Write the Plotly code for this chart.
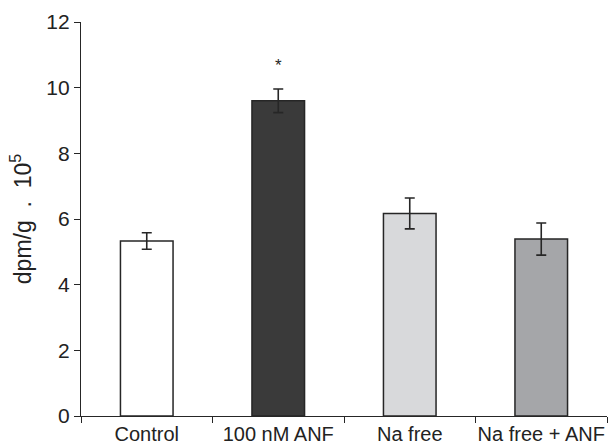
import plotly.graph_objects as go

categories = ["Control", "100 nM ANF", "Na free", "Na free + ANF"]
means = [5.33, 9.60, 6.17, 5.39]
errors = [0.25, 0.36, 0.47, 0.49]
bar_colors = ["#ffffff", "#3a3a3a", "#d8d9db", "#a5a6a9"]
y_ticks = [0, 2, 4, 6, 8, 10, 12]
significance = ["", "*", "", ""]

fig = go.Figure()
fig.add_trace(go.Bar(
    x=categories,
    y=means,
    width=0.4,
    marker=dict(color=bar_colors, line=dict(color="#262626", width=1.5)),
    error_y=dict(type="data", array=errors, visible=True,
                 color="#262626", thickness=1.6, width=5),
    showlegend=False,
))

for cat, m, e, s in zip(categories, means, errors, significance):
    if s:
        fig.add_annotation(x=cat, y=m + e + 0.72, text=s, showarrow=False,
                           font=dict(size=17, color="#262626"))

fig.update_layout(
    width=613, height=446,
    margin=dict(l=81, r=6, t=22, b=30),
    paper_bgcolor="white", plot_bgcolor="white",
    font=dict(family="Liberation Sans, Arial, sans-serif", size=20, color="#222222"),
    bargap=0.6,
)
fig.update_xaxes(
    showline=True, linecolor="#262626", linewidth=1.2,
    ticks="outside", ticklen=6, tickcolor="#262626", tickwidth=1.2,
    tickson="boundaries", showgrid=False, automargin=False,
    tickangle=0, tickfont=dict(size=20),
)
fig.update_yaxes(
    range=[0, 12], tickvals=y_ticks,
    showline=True, linecolor="#262626", linewidth=1.2,
    ticks="outside", ticklen=6, tickcolor="#262626", tickwidth=1.2,
    showgrid=False, zeroline=False, automargin=False,
    tickfont=dict(size=21),
    title=dict(text="dpm/g  .  10<sup>5</sup>", font=dict(size=23), standoff=8),
)

fig.write_html("out.html")
